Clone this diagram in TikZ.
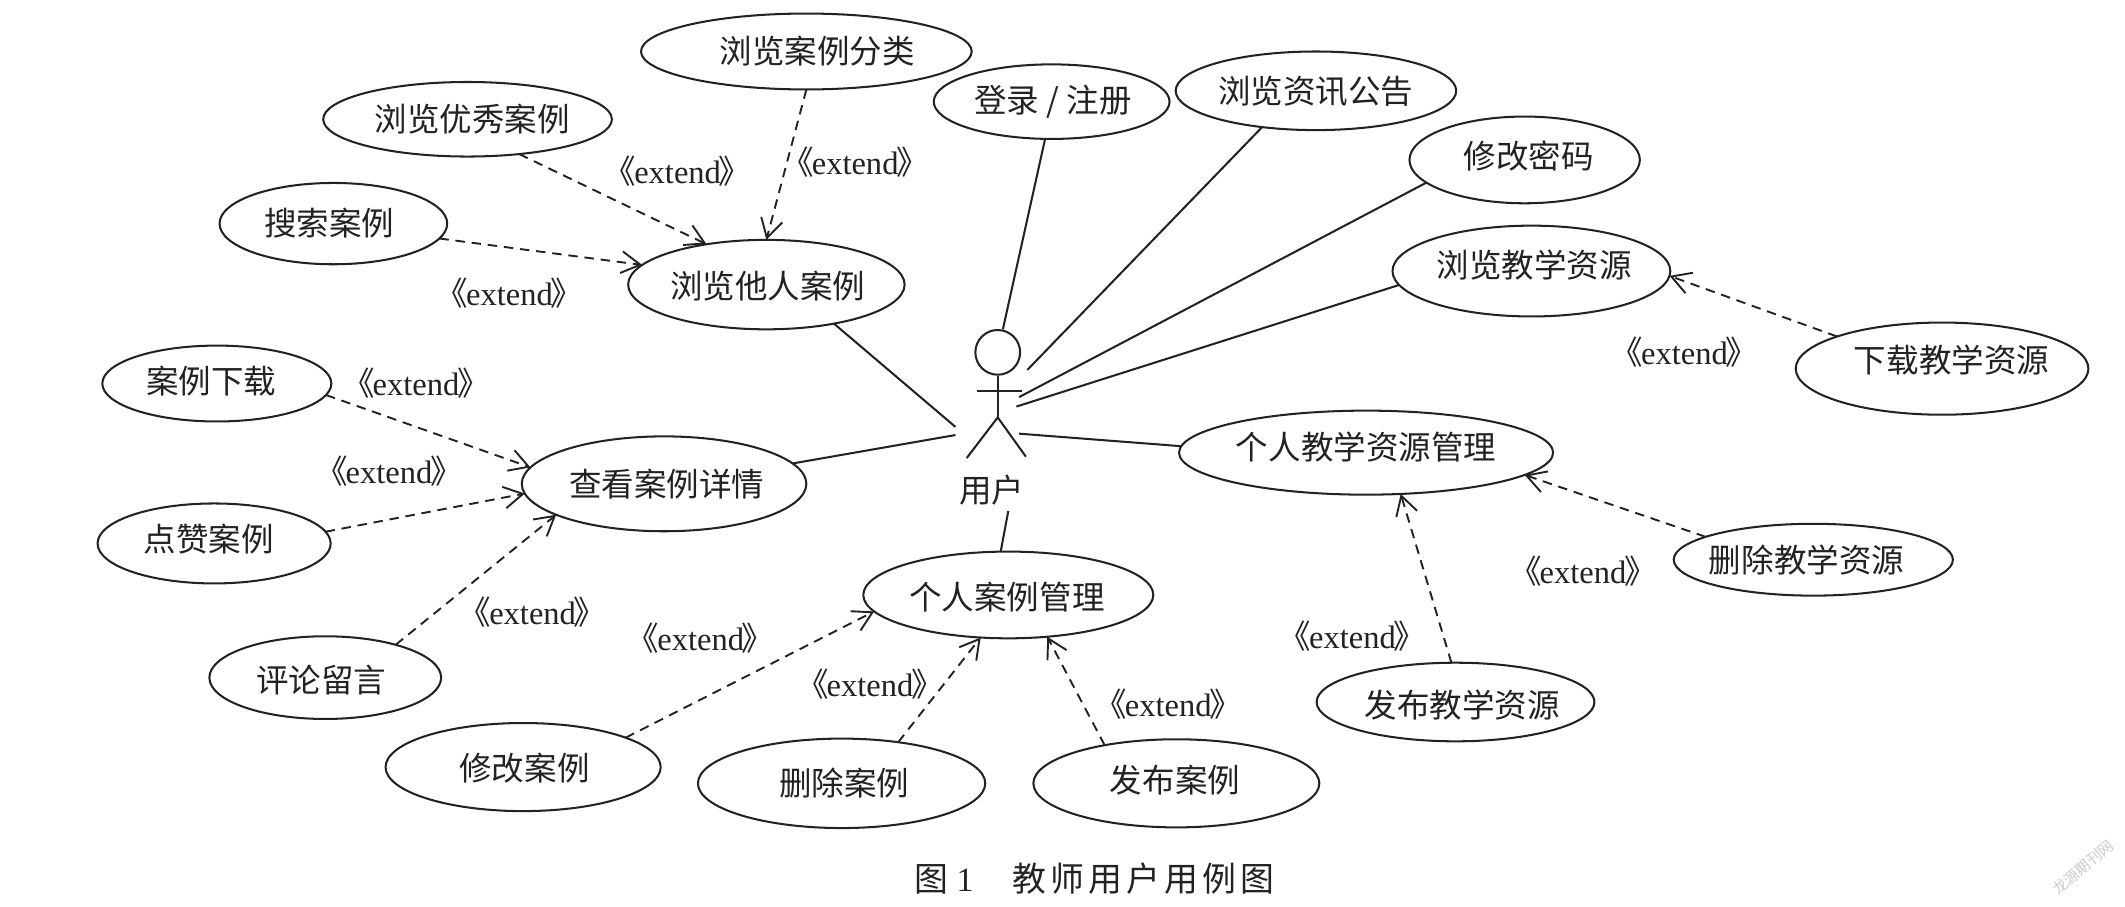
\documentclass[tikz,border=0pt]{standalone}
\usepackage{fontspec}
\usetikzlibrary{shapes.geometric,arrows.meta}
\setmainfont{Liberation Serif}
\newfontfamily\cjk{Noto Sans CJK SC}
\newfontfamily\cjkcap[LetterSpace=12]{Noto Sans CJK SC}
% text of a use case: shift right by #1, down by #2 from the ellipse centre
\newcommand{\zh}[3]{\makebox[0pt]{\kern#1pt\kern#1pt\raisebox{\dimexpr-9.1pt-#2pt\relax}[0pt][0pt]{\cjk #3}}}
\newcommand{\ex}{{\cjk 《}\kern-1.5pt extend\kern-1.5pt{\cjk 》}}
\definecolor{ink}{HTML}{222222}
\tikzset{
  uc/.style 2 args={draw=ink,line width=1.5pt,ellipse,inner sep=0pt,outer sep=0pt,
    minimum width=#1pt,minimum height=#2pt,text=ink,font=\fontsize{24}{26}\selectfont},
  assoc/.style={draw=ink,line width=1.5pt},
  ext/.style={draw=ink,line width=1.4pt,dash pattern=on 7pt off 5pt,
    -{Straight Barb[length=14pt,width=16pt,line width=1.4pt]}},
  lab/.style={inner sep=0pt,text=ink,font=\fontsize{24}{26}\selectfont},
}
\begin{document}
\begin{tikzpicture}[x=1pt,y=-1pt]
\useasboundingbox[fill=white] (0,0) rectangle (1568,669);
% use cases
\node[uc={244}{56}] (cat) at (595,38) {\zh{8}{0}{浏览案例分类}};
\node[uc={213}{55}] (good) at (345,88) {\zh{3.5}{0}{浏览优秀案例}};
\node[uc={168}{60}] (search) at (246,165) {\zh{-3}{0}{搜索案例}};
\node[uc={204}{66}] (others) at (565.5,210) {\zh{1}{1}{浏览他人案例}};
\node[uc={174}{55}] (login) at (776,75) {\zh{1}{-1}{登录 / 注册}};
\node[uc={207}{58}] (news) at (971,67) {\zh{0}{0}{浏览资讯公告}};
\node[uc={170}{64}] (pwd) at (1125,118) {\zh{3}{-3}{修改密码}};
\node[uc={205}{67}] (res) at (1130,200) {\zh{2}{-4}{浏览教学资源}};
\node[uc={216}{68}] (dlres) at (1433,272) {\zh{7}{-6}{下载教学资源}};
\node[uc={276}{62}] (myres) at (1008,334) {\zh{0}{-4}{个人教学资源管理}};
\node[uc={206}{53}] (delres) at (1338,413) {\zh{-5}{0}{删除教学资源}};
\node[uc={205}{58}] (pubres) at (1074,518) {\zh{5}{2}{发布教学资源}};
\node[uc={214}{64}] (mycase) at (744,439) {\zh{-1}{2}{个人案例管理}};
\node[uc={211}{65}] (pubcase) at (868,578) {\zh{-1}{-2}{发布案例}};
\node[uc={212}{66}] (delcase) at (621,578) {\zh{2}{0}{删除案例}};
\node[uc={203}{65}] (editcase) at (386,566) {\zh{1}{1}{修改案例}};
\node[uc={171}{61}] (comment) at (240,500) {\zh{-3}{2}{评论留言}};
\node[uc={172}{59}] (like) at (158,401) {\zh{-4}{-3}{点赞案例}};
\node[uc={169}{56}] (down) at (160,283) {\zh{-4}{-2}{案例下载}};
\node[uc={210}{70}] (detail) at (490,357) {\zh{2}{0}{查看案例详情}};
% actor
\node[draw=ink,line width=1.5pt,circle,inner sep=0pt,minimum size=33pt] (head) at (736.2,260) {};
\coordinate (hip) at (736.2,308);
\coordinate (armL) at (720.7,288.3);
\coordinate (armR) at (754,288.3);
\coordinate (legL) at (713.3,338);
\coordinate (legR) at (757,337);
\draw[assoc] (head.south) -- (hip);
\draw[assoc] (armL) -- (armR);
\draw[assoc] (legL) -- (hip) -- (legR);
\node[lab] (user) at (731.8,362) {\cjk 用户};
% free ends near the actor
\coordinate (aLogin) at (740,243);
\coordinate (aNews) at (758,273);
\coordinate (aPwd) at (752,293);
\coordinate (aRes) at (750,300);
\coordinate (aMyres) at (752,320);
\coordinate (aMycase) at (744,377);
\coordinate (aDetail) at (705,321);
\coordinate (aOthers) at (705,315);
% associations
\draw[assoc] (login.260) -- (aLogin);
\draw[assoc] (news.214) -- (aNews);
\draw[assoc] (pwd.193) -- (aPwd);
\draw[assoc] (res.186) -- (aRes);
\draw[assoc] (myres.178) -- (aMyres);
\draw[assoc] (mycase.100) -- (aMycase);
\draw[assoc] (detail.9) -- (aDetail);
\draw[assoc] (others.-30) -- (aOthers);
% extend
\draw[ext] (cat.-90) -- (others.90);
\draw[ext] (good.-34) -- (others.146.6);
\draw[ext] (search.-8) -- (others.171);
\draw[ext] (down.-6) -- (detail.173);
\draw[ext] (like.6) -- (detail.184);
\draw[ext] (comment.25) -- (detail.196);
\draw[ext] (editcase.16) -- (mycase.187);
\draw[ext] (delcase.36) -- (mycase.237);
\draw[ext] (pubcase.152) -- (mycase.-47);
\draw[ext] (pubres.96) -- (myres.-50);
\draw[ext] (delres.168) -- (myres.-8);
\draw[ext] (dlres.163) -- (res.-2);
% labels
\node[lab] (l1) at (500,126.5) {\ex};
\node[lab] (l2) at (631,120) {\ex};
\node[lab] (l3) at (376,216) {\ex};
\node[lab] (l4) at (307,283) {\ex};
\node[lab] (l5) at (287,348) {\ex};
\node[lab] (l6) at (393,451.5) {\ex};
\node[lab] (l7) at (517,471) {\ex};
\node[lab] (l8) at (642,505) {\ex};
\node[lab] (l9) at (862,519.5) {\ex};
\node[lab] (l10) at (998,469.5) {\ex};
\node[lab] (l11) at (1168,421.5) {\ex};
\node[lab] (l12) at (1243,260) {\ex};
% caption and watermark
\node[lab,font=\fontsize{25}{27}\selectfont] (cap) at (807.5,648) {{\cjk 图} 1\hspace{29pt}{\cjkcap 教师用户用例图}};
\node[inner sep=0pt,rotate=40,text=black!20,font=\fontsize{11}{12}\selectfont] (wm) at (1537,640) {\cjk 龙源期刊网};
\end{tikzpicture}
\end{document}
